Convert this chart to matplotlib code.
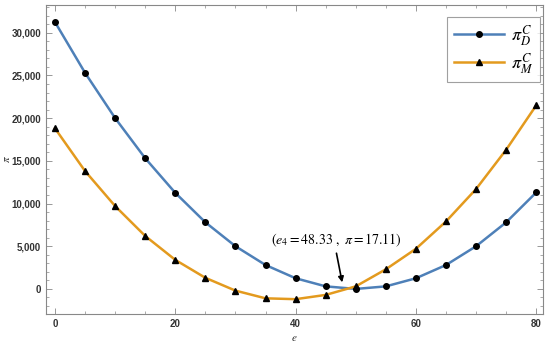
import matplotlib
matplotlib.use("Agg")
import matplotlib.pyplot as plt
from matplotlib.ticker import MultipleLocator, FuncFormatter

# data
e = [0, 5, 10, 15, 20, 25, 30, 35, 40, 45, 50, 55, 60, 65, 70, 75, 80]
pi_D = [31250, 25300, 20000, 15300, 11250, 7800, 5000, 2800, 1250, 300, 0,
        300, 1250, 2800, 5000, 7800, 11300]
pi_M = [18800, 13800, 9700, 6200, 3400, 1300, -200, -1100, -1200, -700, 300,
        2300, 4700, 7900, 11700, 16300, 21500]
e4, pi4 = 48.33, 17.11

blue = "#4E80B8"
orange = "#E39A1E"

plt.rcParams["mathtext.fontset"] = "stix"

fig = plt.figure(figsize=(5.5, 3.45), dpi=100)
ax = fig.add_axes([0.0836, 0.09, 0.9034, 0.8955])

ax.plot(e, pi_D, color=blue, lw=1.8, marker="o", ms=4, mfc="black",
        mec="black", label=r"$\pi_D^C$")
ax.plot(e, pi_M, color=orange, lw=1.8, marker="^", ms=5, mfc="black",
        mec="black", label=r"$\pi_M^C$")

ax.set_xlim(-1.5, 81.1)
ax.set_ylim(-2930, 33250)
ax.xaxis.set_major_locator(MultipleLocator(20))
ax.xaxis.set_minor_locator(MultipleLocator(5))
ax.yaxis.set_major_locator(MultipleLocator(5000))
ax.yaxis.set_minor_locator(MultipleLocator(1000))
ax.yaxis.set_major_formatter(FuncFormatter(lambda v, p: f"{int(v):,}"))

ax.tick_params(which="both", direction="in", top=True, right=True,
               labeltop=False, labelright=False, color="#888888")
ax.tick_params(which="major", length=4, width=0.6)
ax.tick_params(which="minor", length=2, width=0.5)
for lab in ax.get_xticklabels() + ax.get_yticklabels():
    lab.set_fontfamily("Liberation Sans")
    lab.set_fontweight("bold")
    lab.set_fontsize(7)
    lab.set_color("#333333")
for s in ax.spines.values():
    s.set_color("#888888")
    s.set_linewidth(0.8)

ax.set_xlabel(r"$e$", fontsize=8, color="#333333")
ax.set_ylabel(r"$\pi$", fontsize=8, color="#333333")
ax.xaxis.set_label_coords(0.5, -0.062)
ax.yaxis.set_label_coords(-0.068, 0.5)

ax.text(46.8, 5750, r"$(e_4 = 48.33\ ,\ \pi = 17.11)$", ha="center",
        va="center", fontsize=10)
ax.annotate("", xy=(e4 - 0.5, 450), xytext=(46.7, 4500),
            arrowprops=dict(arrowstyle="-|>", color="black", lw=1.2,
                            mutation_scale=8))

leg = ax.legend(loc="upper right", bbox_to_anchor=(0.994, 0.961), fontsize=13,
                frameon=True, fancybox=False, edgecolor="#888888",
                handlelength=2.8, borderpad=0.35, labelspacing=0.15,
                handletextpad=0.4, borderaxespad=0)
leg.get_frame().set_linewidth(0.8)

fig.savefig("out.png", dpi=100)
